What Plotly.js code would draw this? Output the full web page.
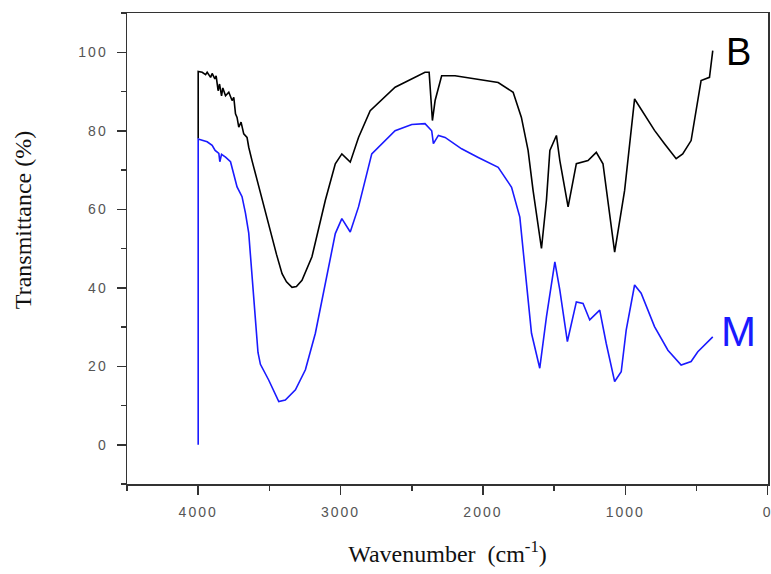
<!DOCTYPE html>
<html>
<head>
<meta charset="utf-8">
<script src="https://cdn.plot.ly/plotly-3.0.1.min.js"></script>
<style>
html,body{margin:0;padding:0;background:#fff;}
#chart{width:771px;height:574px;}
.xtick text, .ytick text {letter-spacing: 2px;}
</style>
</head>
<body>
<div id="chart"></div>
<script>
// Sample B (black) spectrum
const waveB = [4000, 4000, 3972, 3948, 3937, 3913, 3902, 3883, 3874, 3860, 3850, 3836, 3827, 3808, 3785, 3762, 3750, 3738, 3727, 3715, 3699, 3680, 3657, 3645, 3622, 3598, 3575, 3540, 3520, 3481, 3450, 3411, 3380, 3341, 3310, 3271, 3201, 3107, 3037, 2991, 2932, 2874, 2792, 2617, 2407, 2378, 2355, 2336, 2290, 2196, 2033, 1893, 1788, 1730, 1683, 1648, 1589, 1554, 1530, 1484, 1460, 1402, 1344, 1262, 1204, 1157, 1075, 1005, 935, 865, 795, 725, 643, 597, 538, 468, 409, 386];
const transB = [78, 95.1, 94.9, 94.3, 94.9, 93.6, 94.6, 93.2, 94.0, 90.2, 91.9, 88.9, 90.9, 88.9, 89.8, 87.7, 88.5, 84.3, 83.4, 80.9, 82.2, 79.2, 78.3, 75.8, 72.4, 69.0, 65.6, 60.5, 58.0, 52.9, 48.5, 43.6, 41.5, 40.1, 40.3, 41.9, 47.9, 62.3, 71.6, 74.1, 72.0, 78.3, 85.1, 91.1, 94.9, 94.9, 82.6, 87.7, 94.0, 94.0, 93.0, 92.3, 89.8, 83.4, 75.0, 64.8, 50.0, 62.3, 75.0, 78.8, 72.4, 60.6, 71.6, 72.4, 74.5, 71.6, 49.1, 64.8, 88.1, 84.2, 80.1, 76.7, 72.9, 74.1, 77.5, 92.8, 93.6, 100.4];

// Sample M (blue) spectrum
const waveM = [4000, 4000, 3972, 3937, 3902, 3881, 3855, 3848, 3836, 3808, 3773, 3750, 3727, 3692, 3668, 3645, 3622, 3598, 3580, 3563, 3505, 3434, 3388, 3317, 3247, 3177, 3107, 3037, 2991, 2932, 2874, 2781, 2617, 2500, 2407, 2360, 2348, 2313, 2266, 2150, 2033, 1893, 1799, 1741, 1706, 1659, 1601, 1554, 1495, 1460, 1407, 1344, 1297, 1250, 1180, 1134, 1075, 1029, 994, 935, 889, 795, 701, 608, 538, 491, 386];
const transM = [0, 77.9, 77.6, 77.2, 76.3, 75.0, 74.2, 72.1, 74.0, 73.3, 72.1, 69.1, 65.7, 63.2, 59.0, 53.9, 43.0, 33.5, 23.5, 20.5, 16.5, 11.0, 11.4, 14.0, 19.1, 28.4, 41.1, 53.8, 57.6, 54.2, 60.6, 74.1, 80.0, 81.6, 81.8, 80.0, 76.7, 78.8, 78.3, 75.4, 73.2, 70.7, 65.6, 58.0, 45.3, 28.4, 19.5, 32.6, 46.6, 39.4, 26.3, 36.4, 36.0, 31.8, 34.3, 25.8, 16.1, 18.6, 29.2, 40.7, 38.6, 30.1, 24.1, 20.3, 21.2, 23.7, 27.5];

const seriesLabels = ['B', 'M'];
const xTickVals = [4000, 3000, 2000, 1000, 0];
const yTickVals = [0, 20, 40, 60, 80, 100];

const axisColor = '#333';
const tickFont = {family: 'Liberation Sans, Arial, sans-serif', size: 14, color: '#555'};
const serif = 'Liberation Serif, Times New Roman, serif';

const traces = [
  {x: waveB, y: transB, type: 'scatter', mode: 'lines', name: 'B', line: {color: '#000', width: 1.6}},
  {x: waveM, y: transM, type: 'scatter', mode: 'lines', name: 'M', line: {color: '#1a1aff', width: 1.6}}
];

const layout = {
  width: 771, height: 574,
  margin: {l: 127, r: 3, t: 13, b: 90},
  paper_bgcolor: '#fff', plot_bgcolor: '#fff',
  showlegend: false,
  xaxis: {
    range: [4500, -2], tickvals: xTickVals, ticktext: xTickVals.map(String),
    showgrid: false, zeroline: false,
    showline: true, linecolor: axisColor, linewidth: 1.5, mirror: true,
    ticks: 'outside', ticklen: 9, tickwidth: 1.5, tickcolor: axisColor,
    minor: {dtick: 500, tick0: 0, ticks: 'outside', ticklen: 5, tickwidth: 1.5, tickcolor: axisColor},
    tickfont: tickFont, ticklabelstandoff: 6, ticklabeloverflow: 'allow',
    title: {text: 'Wavenumber  (cm<sup>-1</sup>)', font: {family: serif, size: 24, color: '#111'}, standoff: 26}
  },
  yaxis: {
    range: [-10, 110], tickvals: yTickVals, ticktext: yTickVals.map(String),
    showgrid: false, zeroline: false,
    showline: true, linecolor: axisColor, linewidth: 1.5, mirror: true,
    ticks: 'outside', ticklen: 9, tickwidth: 1.5, tickcolor: axisColor,
    minor: {dtick: 10, tick0: 0, ticks: 'outside', ticklen: 5, tickwidth: 1.5, tickcolor: axisColor},
    tickfont: tickFont, ticklabelstandoff: 6
  },
  annotations: [
    {text: 'Transmittance (%)', xref: 'paper', yref: 'paper', x: -0.162, y: 0.5605, textangle: -90, showarrow: false,
     font: {family: serif, size: 24, color: '#111'}, xanchor: 'center', yanchor: 'middle'},
    {text: seriesLabels[0], xref: 'x', yref: 'y', x: 203, y: 100, showarrow: false,
     font: {family: 'Liberation Sans, Arial, sans-serif', size: 38, color: '#000'}},
    {text: seriesLabels[1], xref: 'x', yref: 'y', x: 203, y: 28.8, showarrow: false,
     font: {family: 'Liberation Sans, Arial, sans-serif', size: 42, color: '#1a1aff'}}
  ]
};

Plotly.newPlot('chart', traces, layout, {staticPlot: true, displayModeBar: false});
</script>
</body>
</html>
